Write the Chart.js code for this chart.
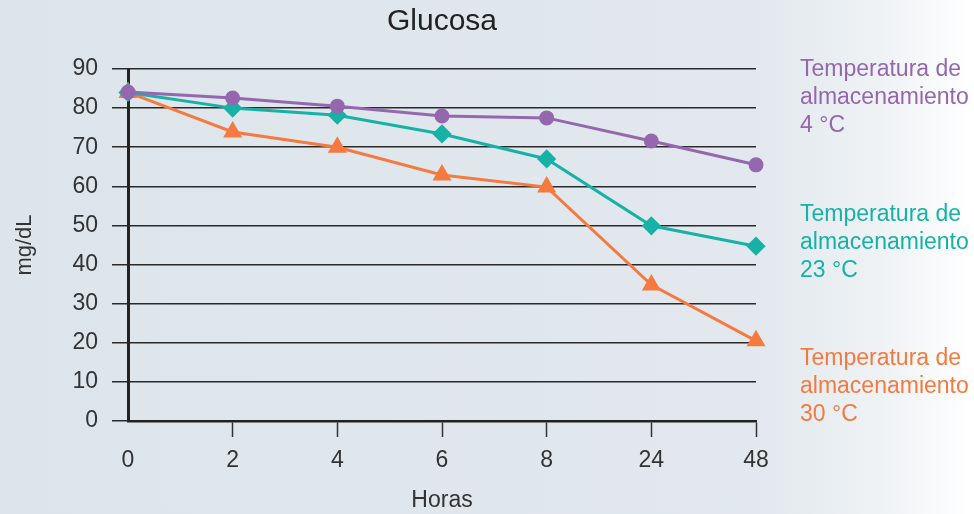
<!DOCTYPE html>
<html>
<head>
<meta charset="utf-8">
<script src="https://cdn.jsdelivr.net/npm/chart.js@4"></script>
<style>
  html, body { margin: 0; padding: 0; }
  body {
    width: 974px; height: 514px; overflow: hidden;
    background: linear-gradient(to right, #dde5eb 0%, #e2e8ed 78%, #eef2f5 90%, #ffffff 100%);
  }
  #wrap { position: relative; width: 974px; height: 514px; }
</style>
</head>
<body>
<div id="wrap"><canvas id="myChart" width="974" height="514"></canvas></div>
<script>
// data
const hours = ['0', '2', '4', '6', '8', '24', '48'];
const temp4 = [84.1, 82.6, 80.5, 78.0, 77.5, 71.6, 65.5];
const temp23 = [84.0, 80.0, 78.2, 73.4, 67.0, 49.9, 44.7];
const temp30 = [84.0, 73.9, 70.0, 62.9, 59.8, 34.8, 20.5];
const seriesLabels = [
    ['Temperatura de', 'almacenamiento', '4 °C'],
    ['Temperatura de', 'almacenamiento', '23 °C'],
    ['Temperatura de', 'almacenamiento', '30 °C']
];

const purple = '#9467ae';
const teal = '#16b2a6';
const orange = '#f47a40';
const fontFamily = '"Liberation Sans", Arial, sans-serif';

// the labels on the right side of the plot
const sideLabels = {
    id: 'sideLabels',
    afterDraw(chart) {
        const ctx = chart.ctx;
        const colors = [purple, teal, orange];
        const tops = [70, 215, 359];
        ctx.save();
        ctx.font = '23px ' + fontFamily;
        ctx.textBaseline = 'middle';
        ctx.textAlign = 'left';
        seriesLabels.forEach((lines, i) => {
            ctx.fillStyle = colors[i];
            lines.forEach((line, j) => {
                ctx.fillText(line, 800, tops[i] + j * 28);
            });
        });
        ctx.restore();
    }
};

const ctx = document.getElementById('myChart').getContext('2d');
new Chart(ctx, {
    type: 'line',
    data: {
        labels: hours,
        datasets: [
            {
                label: seriesLabels[0].join(' '),
                data: temp4,
                borderColor: purple,
                backgroundColor: purple,
                borderWidth: 3,
                pointStyle: 'circle',
                pointRadius: 6,
                pointHoverRadius: 6
            },
            {
                label: seriesLabels[1].join(' '),
                data: temp23,
                borderColor: teal,
                backgroundColor: teal,
                borderWidth: 3,
                pointStyle: 'rectRot',
                pointRadius: 7.5,
                pointHoverRadius: 7.5
            },
            {
                label: seriesLabels[2].join(' '),
                data: temp30,
                borderColor: orange,
                backgroundColor: orange,
                borderWidth: 3,
                pointStyle: 'triangle',
                pointRadius: 8,
                pointHoverRadius: 8
            }
        ]
    },
    options: {
        responsive: false,
        animation: false,
        layout: { padding: { left: 0, right: 218, top: 0, bottom: 0 } },
        plugins: {
            legend: { display: false },
            tooltip: { enabled: false },
            title: {
                display: true,
                text: 'Glucosa',
                fullSize: false,
                color: '#222',
                font: { family: fontFamily, size: 30, weight: 'normal' },
                padding: { top: 4, bottom: 29 }
            }
        },
        scales: {
            x: {
                offset: false,
                afterFit: scale => { scale.height = 93; },
                border: { display: true, color: '#222', width: 2.5 },
                grid: {
                    drawOnChartArea: false,
                    drawTicks: true,
                    tickLength: 16,
                    tickWidth: 1.5,
                    tickColor: c => c.index === 0 ? 'rgba(0,0,0,0)' : '#333'
                },
                ticks: {
                    color: '#333',
                    padding: 10,
                    font: { family: fontFamily, size: 23 }
                },
                title: {
                    display: true,
                    text: 'Horas',
                    color: '#333',
                    font: { family: fontFamily, size: 23 },
                    padding: { top: 0, bottom: 0 }
                }
            },
            y: {
                min: 0,
                max: 90,
                afterFit: scale => { scale.width = 128; },
                border: { display: true, color: '#222', width: 3 },
                grid: {
                    color: '#2a2a2a',
                    lineWidth: 1.5,
                    drawTicks: true,
                    tickLength: 16
                },
                ticks: {
                    stepSize: 10,
                    color: '#333',
                    padding: 14,
                    font: { family: fontFamily, size: 23 }
                },
                title: {
                    display: true,
                    text: 'mg/dL',
                    color: '#333',
                    font: { family: fontFamily, size: 22 },
                    padding: { top: 12, bottom: 0 }
                }
            }
        }
    },
    plugins: [sideLabels]
});
</script>
</body>
</html>
